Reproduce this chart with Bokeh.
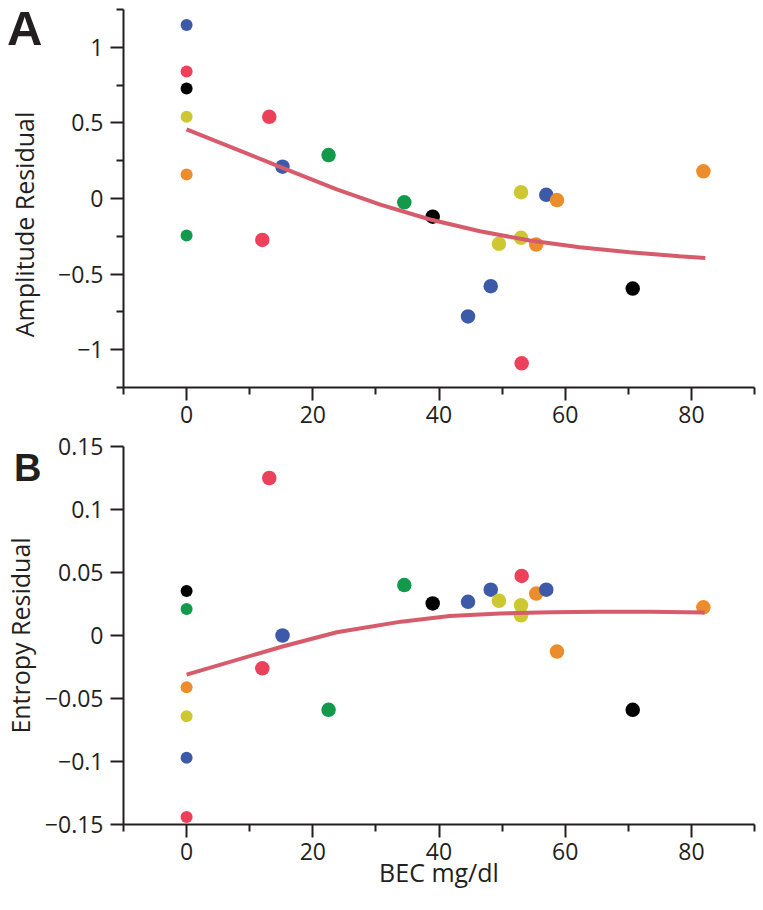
from bokeh.plotting import figure
from bokeh.models import Range1d, FixedTicker, ColumnDataSource, LinearAxis
from bokeh.layouts import column
from bokeh.embed import file_html
from bokeh.resources import INLINE

# ---------------- data ----------------
bec = [0, 0, 0, 0, 0, 0, 12.0, 13.1, 15.2, 22.5, 34.5, 39.0, 44.6, 48.2,
       49.5, 53.0, 53.0, 53.1, 55.4, 57.0, 58.7, 70.7, 81.9]
subject = ["blue", "red", "black", "yellow", "orange", "green", "red", "red",
           "blue", "green", "green", "black", "blue", "blue", "yellow",
           "yellow", "yellow", "red", "orange", "blue", "orange", "black",
           "orange"]
amplitude_residual = [1.148, 0.84, 0.727, 0.54, 0.159, -0.245, -0.274, 0.54,
                      0.21, 0.287, -0.025, -0.12, -0.78, -0.58, -0.30, 0.042,
                      -0.26, -1.09, -0.305, 0.024, -0.01, -0.596, 0.18]
entropy_residual = [-0.097, -0.144, 0.0354, -0.064, -0.041, 0.021, -0.026,
                    0.125, 0.0, -0.059, 0.040, 0.0254, 0.0267, 0.0364, 0.0275,
                    0.024, 0.016, 0.0473, 0.0333, 0.0364, -0.0127, -0.059,
                    0.0224]

# fitted trend curves
amp_fit_x = [0, 15.2, 23.8, 30.7, 38.6, 46.5, 54.4, 62.3, 70.2, 78.1, 82.2]
amp_fit_y = [0.457, 0.203, 0.06, -0.040, -0.139, -0.217, -0.278, -0.322,
             -0.356, -0.382, -0.393]
ent_fit_x = [0, 15.2, 23.8, 34.0, 41.7, 49.7, 57.6, 65.5, 73.4, 82.1]
ent_fit_y = [-0.031, -0.0087, 0.0026, 0.011, 0.0154, 0.0174, 0.0185, 0.0188,
             0.0188, 0.0182]

# axes
x_ticks = [0, 20, 40, 60, 80]
x_minor_ticks = [-10, 10, 30, 50, 70, 90]
amp_ticks = [-1, -0.5, 0, 0.5, 1]
amp_tick_labels = ["\u22121", "\u22120.5", "0", "0.5", "1"]
amp_minor_ticks = [-1.25, -0.75, -0.25, 0.25, 0.75, 1.25]
ent_ticks = [-0.15, -0.1, -0.05, 0, 0.05, 0.1, 0.15]
ent_tick_labels = ["\u22120.15", "\u22120.1", "\u22120.05", "0", "0.05", "0.1", "0.15"]

x_label = "BEC mg/dl"
amp_label = "Amplitude Residual"
ent_label = "Entropy Residual"
panel_a = "A"
panel_b = "B"

# ---------------- styling ----------------
palette = {"blue": "#3d5aa8", "red": "#eb415a", "black": "#000000",
           "yellow": "#cdc832", "orange": "#eb8c2d", "green": "#12994a"}
fit_color = "#d65c6c"
ink = "#231f20"
FONT = "Open Sans"
LETTER_FONT = "Liberation Sans"
TICK_SIZE = "23px"
LABEL_SIZE = "25px"
NBSP = "\u00a0"

colors = [palette[s] for s in subject]
sizes = [12 if b == 0 else 14.5 for b in bec]


def style_axes(p, yticks, ylabels, yminor):
    p.xgrid.visible = False
    p.ygrid.visible = False
    p.outline_line_color = None
    p.background_fill_color = "white"
    p.border_fill_color = "white"
    for ax in (p.xaxis[0], p.yaxis[0]):
        ax.axis_line_width = 2
        ax.axis_line_color = ink
        ax.major_tick_line_width = 2
        ax.minor_tick_line_width = 2
        ax.major_tick_line_color = ink
        ax.minor_tick_line_color = ink
        ax.major_tick_in = 0
        ax.major_tick_out = 13
        ax.minor_tick_in = 0
        ax.minor_tick_out = 7
        ax.major_label_text_font = FONT
        ax.major_label_text_font_size = TICK_SIZE
        ax.major_label_text_color = ink
        ax.axis_label_text_font = FONT
        ax.axis_label_text_font_size = LABEL_SIZE
        ax.axis_label_text_font_style = "normal"
        ax.axis_label_text_color = ink
    p.xaxis[0].ticker = FixedTicker(ticks=x_ticks, minor_ticks=x_minor_ticks)
    p.xaxis[0].major_label_standoff = 5
    p.yaxis[0].ticker = FixedTicker(ticks=yticks, minor_ticks=yminor)
    p.yaxis[0].major_label_overrides = {t: l for t, l in zip(yticks, ylabels)}
    p.yaxis[0].major_label_standoff = 7


def letter_axis(letter, at, size, letter_standoff, label, label_standoff):
    """Outer left axis: carries the panel letter (as its only tick label)
    and the y-axis title."""
    return LinearAxis(
        ticker=FixedTicker(ticks=[at], minor_ticks=[]),
        major_label_overrides={at: letter},
        axis_line_color=None, major_tick_line_color=None,
        minor_tick_line_color=None,
        major_tick_in=0, major_tick_out=0, minor_tick_in=0, minor_tick_out=0,
        major_label_standoff=letter_standoff,
        major_label_text_font=LETTER_FONT, major_label_text_font_style="bold",
        major_label_text_font_size=size, major_label_text_color=ink,
        axis_label=label, axis_label_standoff=label_standoff,
        axis_label_text_font=FONT, axis_label_text_font_size=LABEL_SIZE,
        axis_label_text_font_style="normal", axis_label_text_color=ink)


# ---------------- top panel ----------------
p1 = figure(width=762, height=429, x_range=Range1d(-10, 90),
            y_range=Range1d(-1.25, 1.25), output_backend="svg",
            toolbar_location=None, min_border_left=123, min_border_right=8,
            min_border_top=9, min_border_bottom=42)
style_axes(p1, amp_ticks, amp_tick_labels, amp_minor_ticks)
# title sits a little below the frame centre in the original
p1.add_layout(letter_axis(panel_a, 1.125, "49px", 13,
                          amp_label + NBSP * 8, -37), "left")

src1 = ColumnDataSource(dict(x=bec, y=amplitude_residual, c=colors, s=sizes))
p1.scatter("x", "y", source=src1, size="s", fill_color="c", line_color=None)
p1.line(amp_fit_x, amp_fit_y, line_width=4, line_color=fit_color)

# ---------------- bottom panel ----------------
p2 = figure(width=762, height=475, x_range=Range1d(-10, 90),
            y_range=Range1d(-0.15, 0.15), output_backend="svg",
            toolbar_location=None, min_border_left=123, min_border_right=8,
            min_border_top=17, min_border_bottom=80)
style_axes(p2, ent_ticks, ent_tick_labels, [])
p2.xaxis[0].axis_label = x_label
p2.xaxis[0].axis_label_standoff = -8
p2.add_layout(letter_axis(panel_b, 0.1331, "38px", 0, ent_label, -26), "left")

src2 = ColumnDataSource(dict(x=bec, y=entropy_residual, c=colors, s=sizes))
p2.scatter("x", "y", source=src2, size="s", fill_color="c", line_color=None)
p2.line(ent_fit_x, ent_fit_y, line_width=4, line_color=fit_color)

layout = column(p1, p2, spacing=0)
open("out.html", "w").write(file_html(layout, INLINE))
